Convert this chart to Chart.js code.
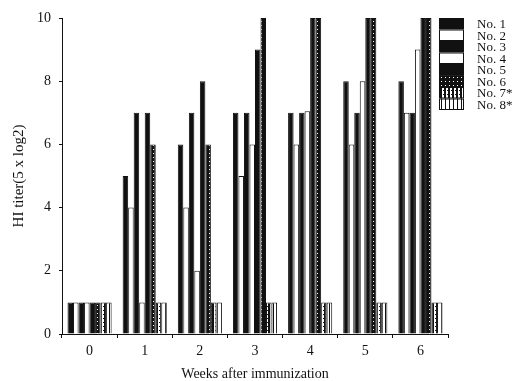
<!DOCTYPE html>
<html>
<head>
<meta charset="utf-8">
<script src="https://cdn.jsdelivr.net/npm/chart.js@4/dist/chart.umd.min.js"></script>
<style>
  body { margin: 0; background: #fff; }
  #wrap { width: 515px; height: 381px; }
</style>
</head>
<body>
<div id="wrap"><canvas id="graph"></canvas></div>
<script>
const weeks = ["0", "1", "2", "3", "4", "5", "6"];
const names = ["No. 1", "No. 2", "No. 3", "No. 4", "No. 5", "No. 6", "No. 7*", "No. 8*"];

const no1 = [1, 5, 6, 7, 7, 8, 8];
const no2 = [1, 4, 4, 5, 6, 6, 7];
const no3 = [1, 7, 7, 7, 7, 7, 7];
const no4 = [1, 1, 2, 6, 7.05, 8, 9];
const no5 = [1, 7, 8, 9, 10, 10, 10];
const no6 = [1, 6, 6, 10, 10, 10, 10];
const no7 = [1, 1, 1, 1, 1, 1, 1];
const no8 = [1, 1, 1, 1, 1, 1, 1];

const yTicks = [0, 2, 4, 6, 8, 10];

// small fill patterns for the last three animals
function pattern(draw) {
  const c = document.createElement("canvas");
  c.width = 4;
  c.height = 4;
  const g = c.getContext("2d");
  draw(g);
  return g.createPattern(c, "repeat");
}

const speckled = pattern((g) => {
  g.fillStyle = "#111";
  g.fillRect(0, 0, 4, 4);
  g.fillStyle = "#fff";
  g.fillRect(1, 1, 1, 1);
});
const darkStripe = pattern((g) => {
  g.fillStyle = "#fff";
  g.fillRect(0, 0, 4, 4);
  g.fillStyle = "#111";
  g.fillRect(0, 0, 2, 4);
  g.fillRect(3, 2, 1, 1);
});
const lightStripe = pattern((g) => {
  g.fillStyle = "#fff";
  g.fillRect(0, 0, 4, 4);
  g.fillStyle = "#111";
  g.fillRect(1, 0, 1, 4);
});

const fills = ["#111", "#fff", "#111", "#fff", "#111", speckled, darkStripe, lightStripe];
const series = [no1, no2, no3, no4, no5, no6, no7, no8];

const serif = "'Liberation Serif', 'DejaVu Serif', serif";

const data = {
  labels: weeks,
  datasets: series.map((values, i) => ({
    label: names[i],
    data: values,
    backgroundColor: fills[i],
    borderColor: "#111",
    borderWidth: 1,
    categoryPercentage: 0.8,
    barPercentage: 1.0,
  })),
};

// legend drawn as a stacked block of swatches in the top right corner
const stackedLegend = {
  id: "stackedLegend",
  afterDraw(chart) {
    const ctx = chart.ctx;
    const x = 439, y = 18, w = 25, h = 11.5;
    ctx.save();
    chart.data.datasets.forEach((ds, i) => {
      ctx.fillStyle = ds.backgroundColor;
      ctx.fillRect(x, y + i * h, w, h);
      ctx.strokeStyle = "#111";
      ctx.lineWidth = 1;
      ctx.strokeRect(x + 0.5, y + i * h + 0.5, w - 1, h - 1);
      ctx.fillStyle = "#111";
      ctx.font = "13px " + serif;
      ctx.textBaseline = "middle";
      ctx.fillText(ds.label, 477, y + i * h + h / 2 + 1);
    });
    ctx.restore();
  },
};

const config = {
  type: "bar",
  data,
  plugins: [stackedLegend],
  options: {
    responsive: true,
    maintainAspectRatio: false,
    animation: false,
    layout: { padding: { top: 18, right: 67, bottom: 0, left: 0 } },
    plugins: {
      legend: { display: false },
      tooltip: { enabled: false },
    },
    scales: {
      x: {
        grid: { drawOnChartArea: false, tickLength: 4, color: "#111" },
        border: { color: "#111", width: 1 },
        ticks: { color: "#111", font: { family: serif, size: 14 }, padding: 5 },
        title: {
          display: true,
          text: "Weeks after immunization",
          color: "#111",
          font: { family: serif, size: 14 },
          padding: { top: 0, bottom: -2 },
        },
        afterFit: (scale) => { scale.height = 47; },
      },
      y: {
        min: 0,
        max: 10,
        afterBuildTicks: (scale) => {
          scale.ticks = yTicks.map((v) => ({ value: v }));
        },
        grid: { drawOnChartArea: false, tickLength: 3, color: "#111" },
        border: { color: "#111", width: 1 },
        ticks: { color: "#111", font: { family: serif, size: 14 }, padding: 8 },
        title: {
          display: true,
          text: "HI titer(5 x log2)",
          color: "#111",
          font: { family: serif, size: 15 },
          padding: { top: 10, bottom: 0 },
        },
        afterFit: (scale) => { scale.width = 62; },
      },
    },
  },
};

new Chart(document.getElementById("graph"), config);
</script>
</body>
</html>
